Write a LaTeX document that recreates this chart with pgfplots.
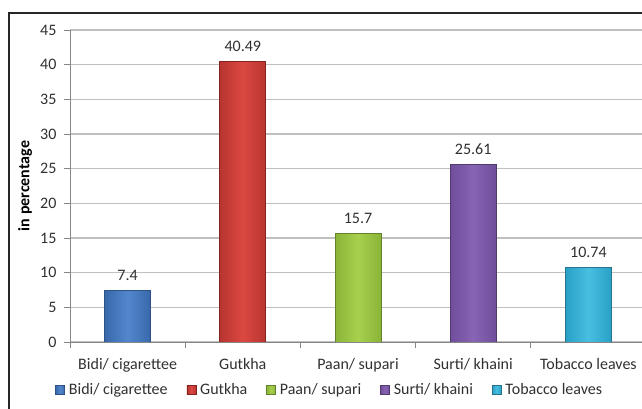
\documentclass[border=0pt]{standalone}
\usepackage{pgfplots}
\pgfplotsset{compat=1.18}
\usepackage{fontspec}
\setmainfont{Carlito}
\definecolor{txt}{HTML}{303030}
\definecolor{gridc}{HTML}{C0C0C0}
\definecolor{axc}{HTML}{868686}
\begin{document}
\begin{tikzpicture}
\clip (0,0) rectangle (642pt,409pt);
\begin{axis}[
  at={(70pt,67pt)}, anchor=south west,
  scale only axis, width=576pt, height=312pt,
  xmin=-0.5, xmax=4.5, ymin=0, ymax=45,
  ytick={0,5,...,45},
  xtick={0,1,2,3,4},
  xticklabels={Bidi/ cigarettee, Gutkha, Paan/ supari, Surti/ khaini, Tobacco leaves},
  minor xtick={-0.5,0.5,1.5,2.5,3.5,4.5},
  major x tick style={draw=none},
  tick align=outside,
  major tick length=6pt, minor tick length=6pt,
  tick style={axc, line width=0.8pt},
  axis lines*=left,
  axis line style={axc, line width=0.8pt},
  ymajorgrids, grid style={gridc, line width=1.3pt},
  font=\fontsize{16}{18}\selectfont,
  tick label style={txt},
  yticklabel style={xshift=-4pt},
  xticklabel style={yshift=-7pt},
  /pgf/number format/assume math mode=true,
  ylabel={\bfseries in percentage},
  ylabel style={at={(axis description cs:0,0.5)}, anchor=center, yshift=45pt, black},
  ybar, bar width=46pt, bar shift=0pt,
  nodes near coords, every node near coord/.append style={txt, yshift=6pt},
  legend columns=5,
  legend style={draw=none, fill=none, at={(axis description cs:0.451,-0.154)}, anchor=center,
    /tikz/every odd column/.style={column sep=2pt},
    /tikz/every even column/.style={column sep=17pt}, font=\fontsize{16}{18}\selectfont, text=txt},
  legend image code/.code={\draw[#1, line width=0.5pt] (0pt,-4.5pt) rectangle (9pt,4.5pt);},
]
\addplot[draw={rgb,255:red,44;green,82;blue,135}, left color={rgb,255:red,56;green,104;blue,170}, right color={rgb,255:red,56;green,104;blue,170}, middle color={rgb,255:red,82;green,135;blue,205}, line width=0.8pt]
  coordinates {(0,7.4)};
\addplot[draw={rgb,255:red,130;green,35;blue,32}, left color={rgb,255:red,184;green,52;blue,48}, right color={rgb,255:red,184;green,52;blue,48}, middle color={rgb,255:red,220;green,72;blue,66}, line width=0.8pt]
  coordinates {(1,40.49)};
\addplot[draw={rgb,255:red,100;green,130;blue,45}, left color={rgb,255:red,138;green,180;blue,55}, right color={rgb,255:red,138;green,180;blue,55}, middle color={rgb,255:red,168;green,208;blue,78}, line width=0.8pt]
  coordinates {(2,15.7)};
\addplot[draw={rgb,255:red,80;green,58;blue,110}, left color={rgb,255:red,112;green,78;blue,155}, right color={rgb,255:red,112;green,78;blue,155}, middle color={rgb,255:red,136;green,100;blue,180}, line width=0.8pt]
  coordinates {(3,25.61)};
\addplot[draw={rgb,255:red,40;green,115;blue,140}, left color={rgb,255:red,40;green,160;blue,198}, right color={rgb,255:red,40;green,160;blue,198}, middle color={rgb,255:red,72;green,190;blue,225}, line width=0.8pt]
  coordinates {(4,10.74)};
\legend{Bidi/ cigarettee, Gutkha, Paan/ supari, Surti/ khaini, Tobacco leaves}
\end{axis}
\draw[black!85, line width=1.5pt] (9pt,-5pt) -- (9pt,396pt) -- (650pt,396pt);
\end{tikzpicture}
\end{document}
